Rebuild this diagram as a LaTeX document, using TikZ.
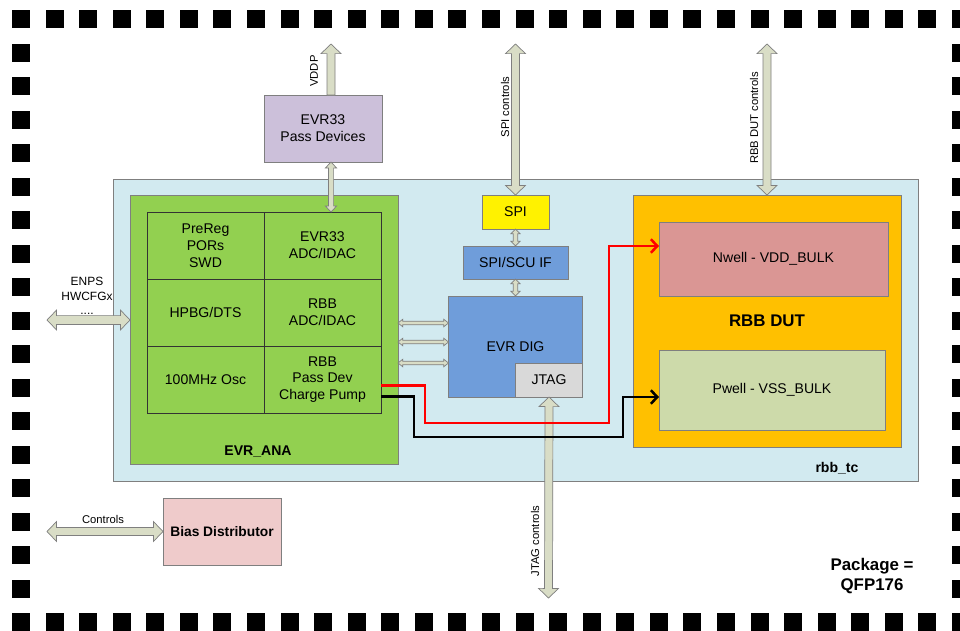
\documentclass[tikz,border=0pt]{standalone}
\usepackage{fontspec}
\setmainfont{Liberation Sans}
\usetikzlibrary{positioning, arrows.meta, calc}

\definecolor{tcblue}{HTML}{D2EAF0}
\definecolor{anagreen}{HTML}{92D050}
\definecolor{passlilac}{HTML}{CCC0DA}
\definecolor{digblue}{HTML}{6F9DDA}
\definecolor{jtaggray}{HTML}{D9D9D9}
\definecolor{dutorange}{HTML}{FFC000}
\definecolor{nwellred}{HTML}{DA9694}
\definecolor{pwellgreen}{HTML}{CDDAAA}
\definecolor{biaspink}{HTML}{EFCBCB}
\definecolor{arrowfill}{HTML}{D9DDC6}
\definecolor{edgegray}{HTML}{7F7F7F}

% fat block arrows: from, to, half shaft, half head, head length
\newcommand{\twoway}[5]{%
  \draw[fat] (#1)
    -- ($(#1)!#5!(#2)!#4!90:(#2)$) -- ($(#1)!#5!(#2)!#3!90:(#2)$)
    -- ($(#2)!#5!(#1)!#3!-90:(#1)$) -- ($(#2)!#5!(#1)!#4!-90:(#1)$)
    -- (#2)
    -- ($(#2)!#5!(#1)!#4!90:(#1)$) -- ($(#2)!#5!(#1)!#3!90:(#1)$)
    -- ($(#1)!#5!(#2)!#3!-90:(#2)$) -- ($(#1)!#5!(#2)!#4!-90:(#2)$)
    -- cycle;}
\newcommand{\oneway}[5]{%
  \draw[fat] ($(#1)!#3!90:(#2)$)
    -- ($(#2)!#5!(#1)!#3!-90:(#1)$) -- ($(#2)!#5!(#1)!#4!-90:(#1)$)
    -- (#2)
    -- ($(#2)!#5!(#1)!#4!90:(#1)$) -- ($(#2)!#5!(#1)!#3!90:(#1)$)
    -- ($(#1)!#3!-90:(#2)$) -- cycle;}

\begin{document}
\begin{tikzpicture}[
        x=0.25mm, y=0.25mm,
        wh/.style 2 args={minimum width=#1*0.25mm, minimum height=#2*0.25mm},
        block/.style={
            rectangle,
            draw=edgegray,
            line width=0.6pt,
            inner sep=0pt,
            outer sep=0pt,
            text centered,
            align=center,
            font=\fontsize{10}{12}\selectfont
        },
        cell/.style={block, draw=black!80, fill=anagreen, wh={117}{67}},
        plain/.style={
            text centered,
            align=center,
            inner sep=0pt
        },
        title/.style={plain, font=\bfseries\fontsize{10}{12}\selectfont},
        tag/.style={plain, font=\fontsize{8}{10}\selectfont},
        fat/.style={draw=edgegray, fill=arrowfill, line width=0.5pt, line join=miter},
        wire/.style={line width=1.8pt, -{Straight Barb[length=1.6mm, width=3.4mm]}},
        pad/.style={fill=black}
    ]
        % Package pads
        \fill[white] (0,0) rectangle (960,-630);
        \useasboundingbox (0,0) rectangle (960,-630);
        \begin{scope}
            \clip (0,0) rectangle (960,-630);
            \foreach \i in {0,...,28} {
                \fill[pad] (12+33.57*\i,-10) rectangle ++(18,-18);
                \fill[pad] (12+33.57*\i,-613) rectangle ++(18,-18);
            }
            \foreach \j in {0,...,18} {
                \fill[pad] (12,-10-33.5*\j) rectangle ++(18,-18);
                \fill[pad] (952,-10-33.5*\j) rectangle ++(18,-18);
            }
        \end{scope}

        % Nodes
        \node[block, fill=tcblue, wh={805}{302}] (tc) at (515.5,-330) {};
        \node[title] (tclbl) at (837,-468) {rbb\_tc};
        \node[block, fill=anagreen, wh={268}{269}] (ana) at (264,-329.5) {};
        \node[title] (analbl) at (258,-452) {EVR\_ANA};
        \node[cell] (prereg) at (205.5,-245.5) {PreReg\\PORs\\SWD};
        \node[cell, right=0pt of prereg] (evradc) {EVR33\\ADC/IDAC};
        \node[cell, below=0pt of prereg] (hpbg) {HPBG/DTS};
        \node[cell, right=0pt of hpbg] (rbbadc) {RBB\\ADC/IDAC};
        \node[cell, below=0pt of hpbg] (osc) {100MHz Osc};
        \node[cell, right=0pt of osc] (pump) {RBB\\Pass Dev\\Charge Pump};

        \node[block, fill=passlilac, wh={118}{67}] (pass) at (323,-128.5) {EVR33\\Pass Devices};
        \node[block, fill=yellow, wh={67}{34}] (spi) at (515.5,-212) {SPI};
        \node[block, fill=digblue, wh={105}{33}, below=4.25mm of spi] (scu) {SPI/SCU IF};
        \node[block, fill=digblue, wh={134}{101}, below=4.25mm of scu] (dig) {EVR DIG};
        \node[block, fill=jtaggray, wh={67}{34}, anchor=south east] (jtag) at (dig.south east) {JTAG};

        \node[block, fill=dutorange, wh={268}{252}, font=\bfseries\fontsize{12}{14}\selectfont] (dut) at (767,-321) {RBB DUT};
        \node[block, fill=nwellred, wh={229}{74}] (nwell) at (773.5,-259) {Nwell - VDD\_BULK};
        \node[block, fill=pwellgreen, wh={226}{80}] (pwell) at (772,-390) {Pwell - VSS\_BULK};

        \node[block, fill=biaspink, wh={118}{67}, font=\bfseries\fontsize{9.8}{12}\selectfont] (bias) at (222,-531.5) {Bias Distributor};
        \node[plain, font=\bfseries\fontsize{12}{14.5}\selectfont] (pkg) at (872,-576) {Package =\\QFP176};

        % Labels
        \node[tag, rotate=90] (vddplbl) at (314,-71) {VDDP};
        \node[tag, rotate=90] (spilbl) at (505,-107) {SPI controls};
        \node[tag, rotate=90] (dutlbl) at (754,-118) {RBB DUT controls};
        \node[tag, rotate=90] (jtaglbl) at (535,-541) {JTAG controls};
        \node[tag, font=\fontsize{8.5}{10.5}\selectfont] (enpslbl) at (87,-296) {ENPS\\HWCFGx\\....};
        \node[tag] (ctrllbl) at (103,-519) {Controls};

        % Free ends
        \coordinate (vddp) at (331,-44);
        \coordinate (spiend) at (515.5,-44);
        \coordinate (dutend) at (767,-44);
        \coordinate (jtagend) at (548.5,-598);
        \coordinate (enpsend) at (47,-320);
        \coordinate (ctrlend) at (47,-531.5);
        \coordinate (passtop) at (vddp |- pass.north);
        \coordinate (passbot) at (vddp |- pass.south);
        \coordinate (adctop) at (vddp |- evradc.north);
        \coordinate (anain) at (enpsend -| ana.west);
        \coordinate (digtop) at (scu.south |- dig.north);

        % Paths
        \oneway{passtop}{vddp}{1mm}{2.5mm}{2.4mm}
        \twoway{passbot}{adctop}{0.65mm}{1.4mm}{1.5mm}
        \twoway{spiend}{spi.north}{1mm}{2.5mm}{2.4mm}
        \twoway{dutend}{dut.north}{1mm}{2.5mm}{2.4mm}
        \twoway{jtag.south}{jtagend}{1mm}{2.5mm}{2.4mm}
        \twoway{enpsend}{anain}{1.1mm}{2.5mm}{2.4mm}
        \twoway{ctrlend}{bias.west}{1mm}{2.5mm}{2.4mm}
        \twoway{spi.south}{scu.north}{0.55mm}{1.15mm}{1.2mm}
        \twoway{scu.south}{digtop}{0.55mm}{1.15mm}{1.2mm}
        \foreach \yy [count=\k] in {323,342,363} {
            \coordinate (l\k) at (ana.east |- 0,-\yy);
            \coordinate (r\k) at (dig.west |- 0,-\yy);
            \twoway{l\k}{r\k}{0.45mm}{0.95mm}{1.2mm}
        }

        \draw[wire, draw=red] ($(pump.east)+(0,-6)$) -| (425,-423) -| (609,-246) -- (nwell.west |- 0,-246);
        \draw[wire, draw=black] ($(pump.east)+(0,-17)$) -| (414,-437) -| (623,-397) -- (pwell.west |- 0,-397);
    \end{tikzpicture}
\end{document}
